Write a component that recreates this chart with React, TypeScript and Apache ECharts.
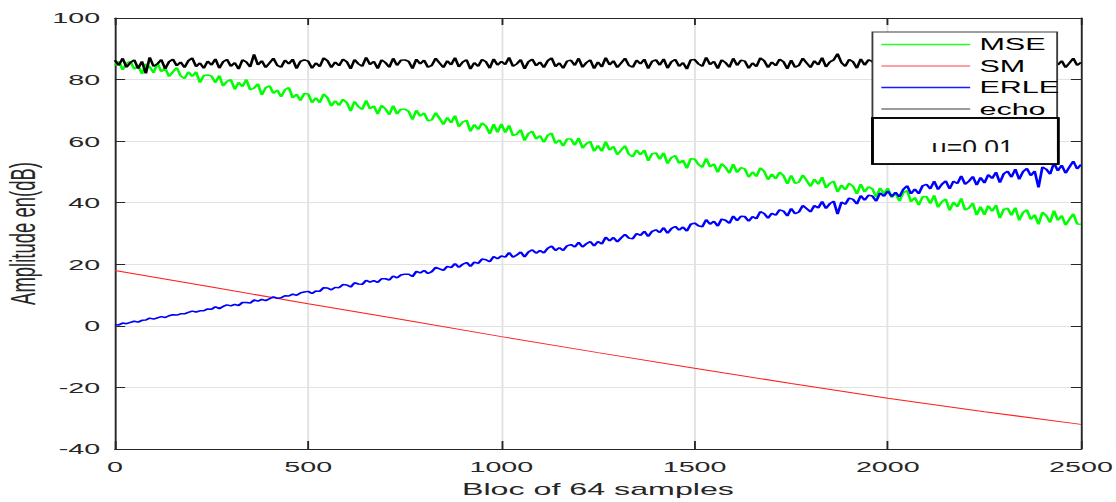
import React, { useEffect, useRef } from "react";
import * as echarts from "echarts";

// ---- data ----
const STEP = 10; // one value every 10 blocs
const X_MIN = 0;
const X_MAX = 2500;
const X_INTERVAL = 500;
const Y_MIN = -40;
const Y_MAX = 100;
const Y_INTERVAL = 20;

const SERIES_NAMES = ["MSE", "SM", "ERLE", "echo"];

const MSE_VALUES = [
  84.6, 85.9, 83.2, 85.3, 85.9, 83.4, 84.5, 81.9, 85.1, 84.1, 82.2, 85.3, 82.6, 83.7, 81.0, 82.5, 83.9, 81.2, 80.3, 82.5, 81.0, 82.5, 79.0, 81.3, 81.5,
  81.1, 79.0, 81.3, 77.9, 79.4, 80.0, 76.8, 79.1, 77.7, 80.0, 76.7, 77.2, 78.6, 75.0, 77.3, 78.0, 75.5, 76.6, 74.4, 76.7, 77.4, 74.1, 75.2, 73.2, 75.5,
  75.3, 72.5, 74.1, 72.5, 75.3, 74.1, 71.4, 73.1, 71.6, 73.6, 72.5, 69.8, 72.9, 71.2, 70.3, 73.2, 70.5, 71.4, 68.8, 71.6, 70.5, 68.6, 71.5, 68.8, 70.4,
  70.4, 69.7, 67.0, 70.0, 68.1, 69.2, 66.6, 66.9, 69.2, 67.4, 65.4, 67.7, 66.0, 68.3, 64.7, 66.2, 66.8, 63.2, 65.4, 63.8, 65.9, 64.9, 62.4, 65.5, 62.9,
  65.6, 62.8, 65.1, 61.8, 62.3, 63.7, 60.2, 62.5, 63.2, 60.7, 61.8, 59.6, 61.9, 62.6, 59.3, 60.4, 58.4, 60.7, 60.7, 58.7, 61.0, 57.7, 59.2, 59.9, 56.7,
  58.6, 56.7, 59.8, 57.1, 58.3, 55.6, 57.1, 58.5, 55.7, 54.9, 57.1, 55.6, 57.1, 53.6, 55.9, 56.2, 54.1, 56.2, 52.7, 54.7, 55.3, 52.8, 53.8, 51.2, 54.3,
  54.2, 52.4, 51.5, 54.4, 51.7, 52.6, 49.9, 52.7, 51.5, 49.6, 52.5, 49.8, 51.4, 51.0, 48.3, 50.0, 48.5, 51.3, 50.2, 47.5, 49.3, 47.8, 49.9, 48.8, 46.1,
  48.9, 46.3, 46.7, 49.0, 47.2, 45.3, 47.6, 46.0, 48.3, 44.8, 46.3, 47.0, 43.5, 45.7, 44.2, 46.3, 45.3, 42.9, 46.0, 43.5, 45.2, 44.5, 41.8, 44.8, 42.9,
  44.7, 41.7, 43.1, 40.5, 43.2, 44.0, 40.3, 41.7, 39.2, 41.9, 42.0, 39.7, 42.4, 38.5, 40.3, 41.2, 37.5, 40.2, 38.7, 41.4, 37.6, 38.3, 39.9, 36.0, 38.7,
  36.1, 39.0, 37.2, 39.2, 35.0, 37.8, 38.2, 35.9, 38.4, 34.3, 36.8, 37.7, 34.6, 36.1, 33.0, 36.9, 35.8, 33.6, 37.4, 34.3, 35.8, 32.7, 34.6, 36.4, 33.1,
  33.0,
];

const ERLE_VALUES = [
  0.4, 0.3, 0.9, 0.7, 1.1, 1.5, 1.2, 1.8, 1.9, 2.5, 2.2, 2.6, 3.0, 2.7, 3.3, 3.6, 3.5, 3.9, 3.9, 4.4, 4.8, 4.5, 4.9, 4.9, 5.5,
  5.4, 6.2, 5.6, 6.3, 6.8, 6.5, 7.0, 6.6, 7.6, 7.6, 7.4, 8.4, 8.0, 8.6, 8.2, 8.8, 9.4, 9.0, 9.1, 9.8, 9.7, 10.3, 9.9, 10.7, 11.0,
  11.2, 10.5, 11.3, 11.2, 12.4, 12.3, 11.7, 12.5, 12.4, 13.4, 13.3, 12.6, 14.0, 13.6, 13.5, 14.8, 14.2, 14.7, 14.1, 15.3, 15.3, 14.9, 16.2, 15.6, 16.5,
  16.8, 16.8, 16.0, 17.7, 17.2, 18.0, 17.0, 17.6, 19.0, 18.5, 18.0, 19.3, 18.9, 20.2, 19.0, 20.0, 20.6, 19.3, 20.7, 20.3, 21.7, 21.5, 20.8, 22.5, 21.8,
  22.7, 22.3, 23.8, 22.3, 23.0, 24.0, 22.4, 24.0, 24.7, 23.6, 24.5, 23.7, 25.2, 25.9, 24.5, 25.4, 24.5, 26.0, 26.4, 25.6, 27.1, 25.6, 26.7, 27.4, 26.0,
  27.4, 26.6, 28.8, 27.6, 28.7, 27.3, 28.6, 29.7, 28.5, 28.3, 30.0, 29.4, 30.7, 29.0, 30.7, 31.2, 30.3, 31.9, 30.1, 31.6, 32.3, 31.1, 32.1, 30.8, 33.0,
  33.4, 32.5, 32.2, 34.5, 33.0, 34.0, 32.4, 34.7, 34.3, 33.3, 35.7, 34.2, 35.6, 35.5, 34.0, 35.5, 34.8, 37.1, 36.5, 35.0, 36.6, 35.9, 37.7, 37.3, 35.7,
  38.1, 36.4, 37.0, 39.1, 38.1, 37.0, 39.1, 38.3, 40.4, 38.1, 39.7, 40.5, 36.3, 40.2, 39.5, 41.5, 41.1, 39.6, 42.3, 40.8, 42.4, 42.2, 40.5, 43.2, 42.1,
  43.8, 42.0, 43.4, 41.9, 44.3, 45.5, 42.9, 44.4, 42.9, 45.5, 46.0, 44.5, 47.0, 44.3, 46.0, 47.1, 44.5, 47.0, 46.2, 48.7, 46.0, 47.0, 48.5, 45.7, 48.2,
  46.4, 49.1, 47.9, 49.9, 46.5, 49.4, 50.2, 48.3, 50.9, 47.6, 50.1, 51.1, 48.8, 50.3, 45.0, 51.6, 50.9, 49.3, 52.9, 50.4, 52.2, 49.6, 51.6, 53.5, 51.0,
  52.4,
];

const ECHO_VALUES = [
  86.3, 84.6, 86.9, 84.0, 85.5, 86.4, 83.6, 85.9, 82.0, 87.2, 84.3, 85.1, 86.5, 83.5, 85.8, 86.6, 84.5, 85.7, 83.9, 86.1, 87.0, 84.2, 85.4, 83.7, 86.0,
  84.7, 86.7, 83.7, 85.8, 86.5, 84.3, 85.5, 83.4, 86.4, 85.7, 84.1, 88.2, 84.8, 86.1, 83.9, 85.4, 86.9, 84.6, 84.0, 86.3, 85.1, 86.6, 83.6, 85.9, 86.4,
  86.0, 83.7, 85.4, 84.2, 87.0, 86.1, 83.9, 85.7, 84.5, 86.6, 85.8, 83.5, 86.5, 85.1, 84.3, 87.2, 84.9, 85.9, 83.6, 86.4, 85.5, 84.0, 86.9, 84.6, 86.3,
  86.4, 85.9, 83.6, 86.6, 85.1, 86.3, 84.0, 84.6, 86.9, 85.4, 83.9, 86.1, 84.8, 87.1, 84.1, 85.7, 86.4, 83.4, 85.5, 84.3, 86.5, 85.8, 83.7, 86.7, 84.7,
  85.9, 84.9, 87.2, 84.3, 85.1, 86.5, 83.5, 85.8, 86.6, 84.5, 85.7, 83.9, 86.1, 87.0, 84.2, 85.4, 83.7, 86.0, 86.3, 84.6, 86.9, 84.0, 85.5, 86.4, 83.6,
  85.7, 84.1, 87.1, 84.8, 86.1, 83.9, 85.4, 86.9, 84.6, 84.0, 86.3, 85.1, 86.6, 83.6, 85.9, 86.4, 84.7, 86.7, 83.7, 85.8, 86.5, 84.3, 85.5, 83.4, 86.4,
  86.5, 85.1, 84.3, 87.2, 84.9, 85.9, 83.6, 86.4, 85.5, 84.0, 86.9, 84.6, 86.3, 86.0, 83.7, 85.4, 84.2, 87.0, 86.1, 83.9, 85.7, 84.5, 86.6, 85.8, 83.5,
  86.3, 84.0, 84.6, 86.9, 85.4, 83.9, 86.1, 84.8, 87.1, 84.1, 85.7, 86.4, 88.4, 85.5, 84.3, 86.5, 85.8, 83.7, 86.7, 84.7, 86.4, 85.9, 83.6, 86.6, 85.1,
  86.6, 84.5, 85.7, 83.9, 86.1, 87.0, 84.2, 85.4, 83.7, 86.0, 86.3, 84.6, 86.9, 84.0, 85.5, 86.4, 83.6, 85.9, 84.9, 87.2, 84.3, 85.1, 86.5, 83.5, 85.8,
  84.0, 86.3, 85.1, 86.6, 83.6, 85.9, 86.4, 84.7, 86.7, 83.7, 85.8, 86.5, 84.3, 85.5, 83.4, 86.4, 85.7, 84.1, 87.1, 84.8, 86.1, 83.9, 85.4, 86.9, 84.6,
  85.6,
];

const SM_X = [0, 250, 500, 750, 1000, 1250, 1500, 1750, 2000, 2250, 2500];
const SM_VALUES = [18.0, 12.6, 7.2, 1.9, -3.5, -8.7, -13.8, -18.7, -23.5, -27.9, -32.0];

const MU_LABEL = "μ=0.01";

// ---- layout: the reference is a horizontally stretched figure ----
const PAGE_W = 1116;
const PAGE_H = 502;
const CHART_W = 603;
const STRETCH = PAGE_W / CHART_W;
const FONT = "Liberation Sans";
const AXIS_COLOR = "#262626";

const stepPairs = (vals: number[]) => vals.map((v, i) => [X_MIN + i * STEP, v]);

export default function App() {
  const ref = useRef<HTMLDivElement | null>(null);

  useEffect(() => {
    if (!ref.current) return;
    const chart = echarts.init(ref.current, null, { renderer: "svg" });

    const axisLine = { show: true, onZero: false, lineStyle: { color: AXIS_COLOR, width: 1 } };
    const splitLine = { show: true, lineStyle: { color: "#e2e2e2", width: 1 } };
    const plainNumber = (v: number) => String(v);

    const option: any = {
      animation: false,
      backgroundColor: "#ffffff",
      textStyle: { fontFamily: FONT },
      grid: {
        left: 62.1,
        right: 18.9,
        top: 18,
        bottom: 53,
        containLabel: false,
        outerBoundsMode: "none",
      },
      xAxis: [
        {
          type: "value",
          min: X_MIN,
          max: X_MAX,
          interval: X_INTERVAL,
          position: "bottom",
          axisLine,
          axisTick: { show: true, inside: true, length: 8, lineStyle: { color: AXIS_COLOR } },
          axisLabel: { fontSize: 15.5, fontFamily: FONT, color: AXIS_COLOR, margin: 10, formatter: plainNumber },
          splitLine,
          name: "Bloc of 64 samples",
          nameLocation: "middle",
          nameGap: 31,
          nameMoveOverlap: false,
          nameTextStyle: { fontSize: 17.4, fontFamily: FONT, color: AXIS_COLOR },
        },
        {
          type: "value",
          min: X_MIN,
          max: X_MAX,
          interval: X_INTERVAL,
          position: "top",
          axisLine,
          axisTick: { show: true, inside: true, length: 7, lineStyle: { color: AXIS_COLOR } },
          axisLabel: { show: false },
          splitLine: { show: false },
        },
      ],
      yAxis: [
        {
          type: "value",
          min: Y_MIN,
          max: Y_MAX,
          interval: Y_INTERVAL,
          position: "left",
          axisLine,
          axisTick: { show: true, inside: true, length: 5.5, lineStyle: { color: AXIS_COLOR } },
          axisLabel: { fontSize: 15.5, fontFamily: FONT, color: AXIS_COLOR, margin: 8, formatter: plainNumber },
          splitLine,
          name: "Amplitude en(dB)",
          nameLocation: "middle",
          nameGap: 40,
          nameMoveOverlap: false,
          nameTextStyle: { fontSize: 18.5, fontFamily: FONT, color: AXIS_COLOR },
        },
        {
          type: "value",
          min: Y_MIN,
          max: Y_MAX,
          interval: Y_INTERVAL,
          position: "right",
          axisLine,
          axisTick: { show: true, inside: true, length: 5.5, lineStyle: { color: AXIS_COLOR } },
          axisLabel: { show: false },
          splitLine: { show: false },
        },
      ],
      legend: {
        orient: "vertical",
        left: 476.2,
        top: 36,
        padding: 0,
        itemGap: 4.5,
        itemWidth: 48,
        itemHeight: 1.5,
        icon: "rect",
        selectedMode: false,
        z: 120,
        textStyle: { fontSize: 16.5, fontFamily: FONT, color: "#000" },
        data: [
          { name: SERIES_NAMES[0], itemStyle: { color: "#22ff22" } },
          { name: SERIES_NAMES[1], itemStyle: { color: "#ff7f7f" } },
          { name: SERIES_NAMES[2], itemStyle: { color: "#1a1aff" } },
          { name: SERIES_NAMES[3], itemStyle: { color: "#7a7a7a" } },
        ],
      },
      graphic: [
        {
          type: "rect",
          z: 100,
          shape: { x: 471.4, y: 32, width: 99.8, height: 86 },
          style: { fill: "#ffffff", stroke: "#3c3c3c", lineWidth: 1 },
        },
        {
          type: "rect",
          z: 100,
          shape: { x: 471.4, y: 118, width: 100.4, height: 46 },
          style: { fill: "#ffffff", stroke: "#000000", lineWidth: 1.4 },
        },
        {
          type: "text",
          z: 101,
          x: 525.5,
          y: 136,
          scaleX: 0.65,
          style: {
            text: MU_LABEL,
            x: 0,
            y: 0,
            align: "center",
            verticalAlign: "top",
            fontSize: 22,
            fontFamily: FONT,
            fill: "#111",
          },
        },
        {
          type: "rect",
          z: 102,
          shape: { x: 472.3, y: 152, width: 98.6, height: 11.3 },
          style: { fill: "#ffffff" },
        },
        {
          type: "rect",
          z: 103,
          shape: { x: 471.4, y: 118, width: 100.4, height: 46 },
          style: { fill: "none", stroke: "#000000", lineWidth: 1.4 },
        },
      ],
      series: [
        {
          name: SERIES_NAMES[0],
          type: "line",
          xAxisIndex: 0,
          yAxisIndex: 0,
          data: stepPairs(MSE_VALUES),
          symbol: "none",
          color: "#00ff00",
          lineStyle: { width: 1.5, color: "#00ff00" },
        },
        {
          name: SERIES_NAMES[1],
          type: "line",
          xAxisIndex: 0,
          yAxisIndex: 0,
          data: SM_X.map((x, i) => [x, SM_VALUES[i]]),
          symbol: "none",
          color: "#ff0000",
          lineStyle: { width: 1, color: "#ff2020" },
        },
        {
          name: SERIES_NAMES[2],
          type: "line",
          xAxisIndex: 0,
          yAxisIndex: 0,
          data: stepPairs(ERLE_VALUES),
          symbol: "none",
          color: "#0000ff",
          lineStyle: { width: 1.5, color: "#0000ff" },
        },
        {
          name: SERIES_NAMES[3],
          type: "line",
          xAxisIndex: 0,
          yAxisIndex: 0,
          data: stepPairs(ECHO_VALUES),
          symbol: "none",
          color: "#000000",
          lineStyle: { width: 1.5, color: "#000000" },
        },
      ],
    };

    chart.setOption(option);
    return () => {
      chart.dispose();
    };
  }, []);

  return (
    <div
      style={{
        position: "absolute",
        left: 0,
        top: 0,
        width: PAGE_W,
        height: PAGE_H,
        overflow: "hidden",
        background: "#ffffff",
      }}
    >
      <div
        ref={ref}
        style={{
          width: CHART_W,
          height: PAGE_H,
          transform: `scaleX(${STRETCH})`,
          transformOrigin: "0 0",
        }}
      />
    </div>
  );
}
